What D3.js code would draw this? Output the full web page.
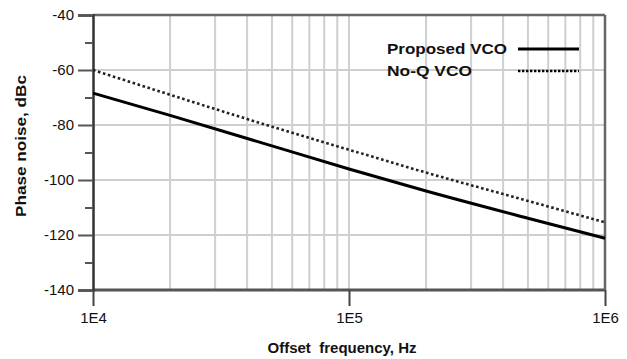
<!DOCTYPE html>
<html>
<head>
<meta charset="utf-8">
<script src="https://cdn.jsdelivr.net/npm/d3@7"></script>
<style>
  body { margin: 0; background: #fff; }
  text { font-family: "Liberation Sans", Arial, sans-serif; fill: #111; }
</style>
</head>
<body>
<div id="chart"></div>
<script>
// offset frequencies, Hz
const freqs = [1e4, 2e4, 5e4, 1e5, 2e5, 5e5, 1e6];
// phase noise values, dBc
const proposed = [-68.4, -76.5, -87.6, -96.0, -104.0, -113.9, -121.2];
const noQ = [-60.0, -69.0, -80.6, -89.0, -97.3, -107.6, -115.4];
const seriesNames = ['Proposed VCO', 'No-Q VCO'];
const yTicks = [-40, -60, -80, -100, -120, -140];
const yMinor = [-50, -70, -90, -110, -130];
const xTickLabels = ['1E4', '1E5', '1E6'];

const W = 627, H = 359;
const m = {top: 15, right: 22, bottom: 69, left: 93};
const iw = W - m.left - m.right, ih = H - m.top - m.bottom;

const svg = d3.select('#chart').append('svg')
    .attr('width', W).attr('height', H);
const g = svg.append('g').attr('transform', `translate(${m.left},${m.top})`);

const x = d3.scaleLog().domain([1e4, 1e6]).range([0, iw]);
const y = d3.scaleLinear().domain([-140, -40]).range([ih, 0]);

// vertical grid: 2..9 x 10^4, 1e5, 2..9 x 10^5
const vgrid = [];
[1e4, 1e5].forEach(dec => {
  for (let k = 2; k <= 9; k++) vgrid.push(k * dec);
  if (dec === 1e4) vgrid.push(1e5);
});
g.selectAll('.vg').data(vgrid).enter().append('line')
    .attr('x1', d => x(d)).attr('x2', d => x(d))
    .attr('y1', 0).attr('y2', ih)
    .attr('stroke', '#cfcfcf').attr('stroke-width', 2);

// horizontal grid
g.selectAll('.hg').data([-60, -80, -100, -120]).enter().append('line')
    .attr('x1', 0).attr('x2', iw)
    .attr('y1', d => y(d)).attr('y2', d => y(d))
    .attr('stroke', '#cfcfcf').attr('stroke-width', 2);

// frame: top, bottom, right
g.append('line').attr('x1', 0).attr('x2', iw).attr('y1', 0).attr('y2', 0)
    .attr('stroke', '#666').attr('stroke-width', 2.5);
g.append('line').attr('x1', 0).attr('x2', iw).attr('y1', ih).attr('y2', ih)
    .attr('stroke', '#555').attr('stroke-width', 3);
g.append('line').attr('x1', iw).attr('x2', iw).attr('y1', 0).attr('y2', ih)
    .attr('stroke', '#666').attr('stroke-width', 2.5);

// y axis (plain hyphen minus like the original)
const yAxis = g.append('g')
    .call(d3.axisLeft(y).tickValues(yTicks).tickSize(15).tickPadding(4).tickFormat(d => String(d)));
yAxis.select('.domain').attr('stroke', '#333').attr('stroke-width', 2.5);
yAxis.selectAll('.tick line').attr('stroke', '#555').attr('stroke-width', 2);
yAxis.selectAll('.tick text').style('font-size', '15px').attr('fill', '#111');
g.append('g')
    .call(d3.axisLeft(y).tickValues(yMinor).tickSize(8).tickFormat(''))
    .call(s => s.select('.domain').remove())
    .selectAll('.tick line').attr('stroke', '#555').attr('stroke-width', 2);

// x axis
const xAxis = g.append('g').attr('transform', `translate(0,${ih})`)
    .call(d3.axisBottom(x).tickValues([1e4, 1e5, 1e6]).tickSize(16).tickPadding(6)
      .tickFormat((d, i) => xTickLabels[i]));
xAxis.select('.domain').remove();
xAxis.selectAll('.tick line').attr('stroke', '#444').attr('stroke-width', 2);
xAxis.selectAll('.tick text').style('font-size', '15px').attr('fill', '#111');

// curves
const line = d3.line().x((d, i) => x(freqs[i])).y(d => y(d)).curve(d3.curveMonotoneX);
g.append('path').datum(proposed).attr('d', line)
    .attr('fill', 'none').attr('stroke', '#000').attr('stroke-width', 3);
g.append('path').datum(noQ).attr('d', line)
    .attr('fill', 'none').attr('stroke', '#222').attr('stroke-width', 2.6)
    .attr('stroke-dasharray', '2.6,2.6');

// legend
const legW = [120, 85];
const leg = g.append('g').attr('transform', `translate(${387 - m.left},${49 - m.top})`);
seriesNames.forEach((name, i) => {
  const row = leg.append('g').attr('transform', `translate(0,${i * 22})`);
  row.append('text').attr('x', 0).attr('y', 5)
      .style('font-size', '14px').style('font-weight', 'bold')
      .attr('textLength', legW[i]).attr('lengthAdjust', 'spacingAndGlyphs')
      .text(name);
  row.append('line').attr('x1', 131).attr('x2', 192).attr('y1', 0).attr('y2', 0)
      .attr('stroke', '#000').attr('stroke-width', i === 0 ? 3 : 2.4)
      .attr('stroke-dasharray', i === 0 ? null : '2.4,1.6');
});

// axis titles
svg.append('text').attr('x', 342).attr('y', 353).attr('text-anchor', 'middle')
    .style('font-size', '14px').style('font-weight', 'bold')
    .attr('xml:space', 'preserve')
    .attr('textLength', 149).attr('lengthAdjust', 'spacingAndGlyphs')
    .text('Offset  frequency, Hz');
svg.append('text').attr('transform', 'translate(26,146) rotate(-90)')
    .attr('text-anchor', 'middle')
    .style('font-size', '14px').style('font-weight', 'bold')
    .attr('textLength', 142).attr('lengthAdjust', 'spacingAndGlyphs')
    .text('Phase noise, dBc');
</script>
</body>
</html>
